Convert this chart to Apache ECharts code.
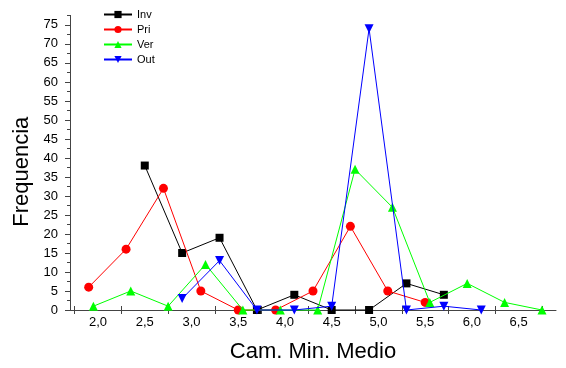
<!DOCTYPE html>
<html>
<head>
<meta charset="utf-8">
<script src="https://cdn.jsdelivr.net/npm/echarts@6/dist/echarts.min.js"></script>
<style>html,body{margin:0;padding:0;background:#fff}#c{width:566px;height:368px}</style>
</head>
<body>
<div id="c"></div>
<script>
// Data
const invX = [2.5, 2.9, 3.3, 3.7, 4.1, 4.5, 4.9, 5.3, 5.7];
const invY = [38, 15, 19, 0, 4, 0, 0, 7, 4];
const priX = [1.9, 2.3, 2.7, 3.1, 3.5, 3.9, 4.3, 4.7, 5.1, 5.5];
const priY = [6, 16, 32, 5, 0, 0, 5, 22, 5, 2];
const verX = [1.95, 2.35, 2.75, 3.15, 3.55, 3.95, 4.35, 4.75, 5.15, 5.55, 5.95, 6.35, 6.75];
const verY = [1, 5, 1, 12, 0, 0, 0, 37, 27, 2, 7, 2, 0];
const outX = [2.9, 3.3, 3.7, 4.1, 4.5, 4.9, 5.3, 5.7, 6.1];
const outY = [3, 13, 0, 0, 1, 74, 0, 1, 0];

// Tick labels / tick positions
const xLabelVals = [2.0, 2.5, 3.0, 3.5, 4.0, 4.5, 5.0, 5.5, 6.0, 6.5];
const xTickVals = [1.75, 2.25, 2.75, 3.25, 3.75, 4.25, 4.75, 5.25, 5.75, 6.25, 6.75];
const yLabelVals = [0, 5, 10, 15, 20, 25, 30, 35, 40, 45, 50, 55, 60, 65, 70, 75];
const yMinorVals = [2.5, 7.5, 12.5, 17.5, 22.5, 27.5, 32.5, 37.5, 42.5, 47.5, 52.5, 57.5, 62.5, 67.5, 72.5, 77.5];

const zip = (xs, ys) => xs.map((x, i) => [x, ys[i]]);
const FONT = '"Liberation Sans", Arial, sans-serif';
const AX = '#444';

const chart = echarts.init(document.getElementById('c'), null, {renderer: 'canvas'});
const xRange = {min: 1.7, max: 6.9};
const yRange = {min: 0, max: 77.5};

chart.setOption({
  animation: false,
  backgroundColor: '#fff',
  grid: {left: 70, top: 15.4, right: 10, bottom: 56, containLabel: false},
  legend: {
    orient: 'vertical', left: 103, top: 9, padding: 0, itemWidth: 28, itemHeight: 9, itemGap: 4,
    textStyle: {fontFamily: FONT, fontSize: 11, color: '#000'},
    data: ['Inv', 'Pri', 'Ver', 'Out']
  },
  xAxis: [
    {
      type: 'value', ...xRange, position: 'bottom',
      name: 'Cam. Min. Medio', nameLocation: 'middle', nameGap: 31,
      nameTextStyle: {fontFamily: FONT, fontSize: 22, color: '#000'},
      axisLine: {show: true, onZero: false, lineStyle: {color: AX, width: 1}},
      axisTick: {show: true, inside: false, length: 4, customValues: xTickVals, lineStyle: {color: AX}},
      axisLabel: {show: true, margin: 6, customValues: xLabelVals, fontFamily: FONT, fontSize: 13, color: '#000',
        formatter: v => v.toFixed(1).replace('.', ',')},
      splitLine: {show: false}
    },
    {
      type: 'value', ...xRange, position: 'bottom', gridIndex: 0,
      axisLine: {show: false, onZero: false},
      axisTick: {show: true, inside: true, length: 4, customValues: xTickVals, lineStyle: {color: AX}},
      axisLabel: {show: false},
      splitLine: {show: false}
    }
  ],
  yAxis: [
    {
      type: 'value', ...yRange, position: 'left',
      name: 'Frequencia', nameLocation: 'middle', nameGap: 36, nameRotate: 90,
      nameTextStyle: {fontFamily: FONT, fontSize: 22, color: '#000', padding: [0, 18, 0, 0]},
      axisLine: {show: true, onZero: false, lineStyle: {color: AX, width: 1}},
      axisTick: {show: true, inside: false, length: 5, customValues: yLabelVals, lineStyle: {color: AX}},
      axisLabel: {show: true, margin: 12, customValues: yLabelVals, fontFamily: FONT, fontSize: 13, color: '#000'},
      splitLine: {show: false}
    },
    {
      type: 'value', ...yRange, position: 'left',
      axisLine: {show: false, onZero: false},
      axisTick: {show: true, inside: false, length: 3, customValues: yMinorVals, lineStyle: {color: AX}},
      axisLabel: {show: false},
      splitLine: {show: false}
    }
  ],
  series: [
    {name: 'Inv', type: 'line', data: zip(invX, invY), symbol: 'rect', symbolSize: 8, clip: false,
      itemStyle: {color: '#000'}, lineStyle: {color: '#000', width: 1}, z: 2},
    {name: 'Pri', type: 'line', data: zip(priX, priY), symbol: 'circle', symbolSize: 9, clip: false,
      itemStyle: {color: '#ff0000'}, lineStyle: {color: '#ff0000', width: 1}, z: 3},
    {name: 'Ver', type: 'line', data: zip(verX, verY), symbol: 'triangle', symbolSize: 9, clip: false,
      itemStyle: {color: '#00ff00'}, lineStyle: {color: '#00ff00', width: 1}, z: 4},
    {name: 'Out', type: 'line', data: zip(outX, outY), symbol: 'triangle', symbolRotate: 180, symbolSize: 9, clip: false,
      itemStyle: {color: '#0000ff'}, lineStyle: {color: '#0000ff', width: 1}, z: 5}
  ]
});
</script>
</body>
</html>
